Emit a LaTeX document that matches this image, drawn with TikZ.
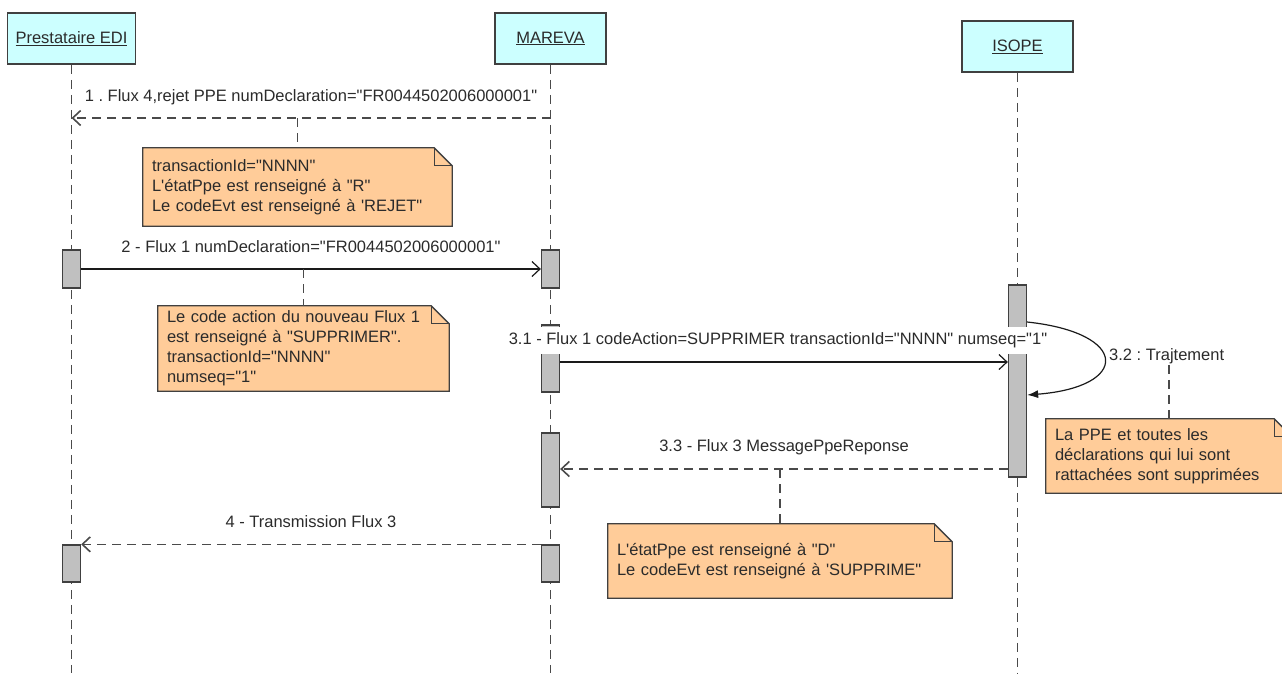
\documentclass[tikz,border=0pt]{standalone}
\usepackage{fontspec}
\setmainfont{Liberation Sans}[Ligatures=TeXOff]
\usetikzlibrary{arrows.meta,backgrounds}
\definecolor{hdrfill}{HTML}{CCFFFF}
\definecolor{notefill}{HTML}{FFCC99}
\definecolor{barfill}{HTML}{C0C0C0}
\definecolor{edgec}{HTML}{404040}
\definecolor{txtc}{HTML}{2B2B2B}
\definecolor{dashc}{HTML}{4A4A4A}
\definecolor{msgc}{HTML}{1A1A1A}
\newcommand\foldnote[1]{%
  \begin{scope}[on background layer]
    \filldraw[notebg] (#1.north west) -- ([xshift=-18pt]#1.north east)
      -- ([yshift=-18pt]#1.north east) -- (#1.south east) -- (#1.south west) -- cycle;
  \end{scope}
  \draw[notebg, fill=none] ([xshift=-18pt]#1.north east) -- ([xshift=-18pt,yshift=-18pt]#1.north east)
      -- ([yshift=-18pt]#1.north east);
}
\begin{document}
\frenchspacing
\begin{tikzpicture}[x=1pt,y=-1pt, font=\fontsize{16.5}{20}\selectfont\frenchspacing,
  header/.style={draw=edgec, line width=1.6pt, fill=hdrfill, text=txtc, inner sep=0pt, minimum height=51pt},
  lifeline/.style={draw=dashc, line width=1.6pt, dash pattern=on 9pt off 6pt},
  bar/.style={draw=edgec, fill=barfill, line width=1.3pt, minimum width=18pt, inner sep=0pt},
  smsg/.style={draw=msgc, line width=1.2pt, -{Straight Barb[length=8pt,width=15pt]}},
  dmsg/.style={smsg, draw=dashc, line width=1.6pt, dash pattern=on 9pt off 6pt},
  lbl/.style={text=txtc, inner sep=1pt},
  note/.style={text=txtc, align=left, inner xsep=9pt, inner ysep=0pt},
  notebg/.style={draw=edgec, fill=notefill, line width=1.3pt},
  conn/.style={draw=dashc, line width=1.6pt, dash pattern=on 9pt off 6pt},
  selfmsg/.style={draw=msgc, line width=1.2pt, -{Latex[length=11pt,width=8pt]}}]
\useasboundingbox (0,0) rectangle (1282,673);

% participants
\node[header, minimum width=128pt] (pre) at (71.5,38.5) {\underline{Prestataire EDI}};
\node[header, minimum width=111pt] (mar) at (550.5,38.5) {\underline{MAREVA}};
\node[header, minimum width=111pt] (iso) at (1017.5,46.5) {\underline{ISOPE}};

\coordinate (preEnd) at (71.5,673);
\coordinate (marEnd) at (550.5,673);
\coordinate (isoEnd) at (1017.5,673);
\draw[lifeline] (pre.south) -- (preEnd);
\draw[lifeline] (mar.south) -- (marEnd);
\draw[lifeline] (iso.south) -- (isoEnd);

% activation bars
\node[bar, minimum height=38pt] (p1) at (71.5,269) {};
\node[bar, minimum height=37pt] (p4) at (71.5,563.5) {};
\node[bar, minimum height=38pt] (m1) at (550.5,269) {};
\node[bar, minimum height=67pt] (m2) at (550.5,358.5) {};
\node[bar, minimum height=74pt] (m3) at (550.5,470) {};
\node[bar, minimum height=37pt] (m4) at (550.5,563.5) {};
\node[bar, minimum height=192pt] (i1) at (1017.5,381) {};

% notes
\node[note, text width=291pt, minimum width=309pt, minimum height=78pt] (n1) at (297.5,187)
  {transactionId="NNNN"\\L'étatPpe est renseigné à "R"\\Le codeEvt est renseigné à 'REJET"};
\foldnote{n1}
\node[note, text width=273pt, minimum width=291pt, minimum height=85pt] (n2) at (303.5,348.5)
  {Le code action du nouveau Flux 1\\est renseigné à "SUPPRIMER".\\transactionId="NNNN"\\numseq="1"};
\foldnote{n2}
\node[note, text width=326pt, minimum width=344pt, minimum height=74pt] (n3) at (780,561)
  {L'étatPpe est renseigné à "D"\\Le codeEvt est renseigné à 'SUPPRIME"};
\foldnote{n3}
\node[note, text width=228pt, minimum width=246pt, minimum height=74pt] (n4) at (1169,456)
  {La PPE et toutes les\\déclarations qui lui sont\\rattachées sont supprimées};
\foldnote{n4}

% messages
\draw[dmsg] (mar |- 0,118) -- (pre |- 0,118)
  node[lbl, midway, yshift=21pt] {1 . Flux 4,rejet PPE numDeclaration="FR0044502006000001"};
\draw[conn] (n1.north |- 0,118) -- (n1.north);

\draw[smsg] (p1.east) -- (m1.west)
  node[lbl, midway, yshift=22pt] {2 - Flux 1 numDeclaration="FR0044502006000001"};
\draw[conn] (n2.north |- 0,269) -- (n2.north);

\draw[smsg] (m2.east |- 0,362) -- (i1.west |- 0,362);
\node[lbl, fill=white, inner xsep=2pt, inner ysep=0pt, minimum height=27pt] (l31) at (778,340)
  {3.1 - Flux 1 codeAction=SUPPRIMER transactionId="NNNN" numseq="1"};

\draw[selfmsg] (i1.east |- 0,322) .. controls (1130,333) and (1130,387) .. (i1.east |- 0,395);
\node[lbl, anchor=west] (l32) at (1108,356) {3.2 : Trajtement};
\draw[conn] (l32.south -| n4.north) -- (n4.north);

\draw[dmsg] (i1.west |- 0,469) -- (m3.east |- 0,469)
  node[lbl, midway, yshift=22pt] {3.3 - Flux 3 MessagePpeReponse};
\draw[conn] (n3.north |- 0,469) -- (n3.north);

\draw[dmsg] (m4.north west) -- (p4.north east)
  node[lbl, midway, yshift=23pt] {4 - Transmission Flux 3};
\end{tikzpicture}
\end{document}
